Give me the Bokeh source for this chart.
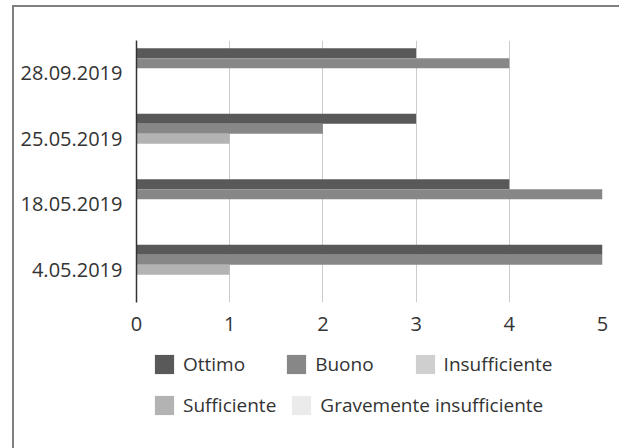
from bokeh.plotting import figure
from bokeh.layouts import column
from bokeh.models import (ColumnDataSource, FactorRange, Range1d, Legend, LegendItem,
                          FixedTicker)
from bokeh.transform import dodge
from bokeh.embed import file_html
from bokeh.resources import INLINE

# ---- data ----
dates = ["4.05.2019", "18.05.2019", "25.05.2019", "28.09.2019"]
series = ["Ottimo", "Buono", "Sufficiente", "Insufficiente", "Gravemente insufficiente"]
ottimo = [5, 4, 3, 3]
buono = [5, 5, 2, 4]
sufficiente = [1, 0, 1, 0]
insufficiente = [0, 0, 0, 0]
gravemente = [0, 0, 0, 0]
x_ticks = [0, 1, 2, 3, 4, 5]

colors = ["#595959", "#878787", "#b3b3b3", "#cfcfcf", "#ebebeb"]
FONT = "Open Sans"
TXT = "#333333"
FS = "20px"
LFS = "19px"

source = ColumnDataSource(dict(date=dates, Ottimo=ottimo, Buono=buono,
                               Sufficiente=sufficiente, Insufficiente=insufficiente,
                               Gravemente=gravemente))
cols = ["Ottimo", "Buono", "Sufficiente", "Insufficiente", "Gravemente"]
bh = 0.153
offsets = [2 * bh, bh, 0, -bh, -2 * bh]

# ---------- main chart ----------
p = figure(width=605, height=335, y_range=FactorRange(*dates), x_range=Range1d(0, 5),
           output_backend="svg", toolbar_location=None,
           min_border_left=122, min_border_right=17, min_border_top=33, min_border_bottom=40)
p.outline_line_color = None

for c, off, col in zip(cols, offsets, colors):
    p.hbar(y=dodge("date", off, range=p.y_range), right=c, left=0, height=bh,
           source=source, fill_color=col, line_color=None)

p.xaxis.ticker = FixedTicker(ticks=x_ticks)
p.xaxis.axis_line_color = None
p.xaxis.major_tick_line_color = None
p.xaxis.minor_tick_line_color = None
p.xaxis.major_label_text_font = FONT
p.xaxis.major_label_text_font_size = FS
p.xaxis.major_label_text_color = TXT
p.xaxis.major_label_standoff = 8

p.yaxis.axis_line_color = "#333333"
p.yaxis.axis_line_width = 1.5
p.yaxis.major_tick_line_color = None
p.yaxis.minor_tick_line_color = None
p.yaxis.major_label_text_font = FONT
p.yaxis.major_label_text_font_size = FS
p.yaxis.major_label_text_color = TXT
p.yaxis.major_label_standoff = 8

p.xgrid.grid_line_color = "#cccccc"
p.xgrid.grid_line_width = 1
p.ygrid.grid_line_color = None

# ---------- legend panel (frame aligned with the chart's frame) ----------
q = figure(width=605, height=106, y_range=FactorRange(*dates), x_range=Range1d(0, 5),
           output_backend="svg", toolbar_location=None,
           x_axis_type=None, y_axis_type=None, min_border=0)
q.outline_line_color = None
q.grid.visible = False
lr = []
for c, off, col in zip(cols, offsets, colors):
    r = q.hbar(y=dodge("date", off, range=q.y_range), right=c, left=0, height=bh,
               source=source, fill_color=col, line_color=None, visible=False)
    lr.append(r)

rows = [([0, 1, 3], 39, (16, 71)), ([2, 4], 13, (16, 30))]
for idxs, sp, loc in rows:
    lg = Legend(items=[LegendItem(label=series[i], renderers=[lr[i]]) for i in idxs],
                location=loc, orientation="horizontal",
                glyph_width=24, glyph_height=24, label_standoff=7,
                label_text_font=FONT, label_text_font_size=LFS, label_text_color=TXT,
                padding=0, margin=0, spacing=sp, border_line_color=None,
                background_fill_alpha=0, label_height=19)
    q.add_layout(lg)

layout = column(p, q, spacing=0,
                styles={"margin-left": "12px", "margin-top": "5px",
                        "border-top": "2px solid #808080", "border-left": "2px solid #808080"})

open("out.html", "w").write(file_html(layout, INLINE))
